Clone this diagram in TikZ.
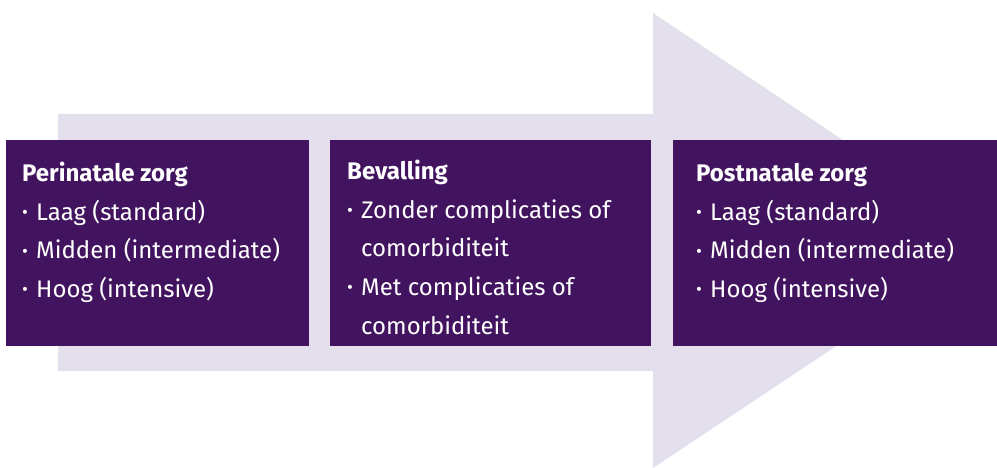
\documentclass[tikz,border=0pt]{standalone}
\usepackage{fontspec}
\setmainfont{Fira Sans}
\usepackage{tikz}
\definecolor{rovviolet}{HTML}{42145F}
\definecolor{rovlila}{HTML}{E4DFEC}
\newcommand{\bul}{\makebox[14pt][l]{\raisebox{1.5pt}{\fontsize{18}{18}\selectfont\textbullet}}}
\newcommand{\ind}{\hspace*{14pt}}

\begin{document}
\begin{tikzpicture}[x=1pt,y=-1pt,
                phase/.style={fill=rovviolet,anchor=north west,inner sep=0pt,minimum height=206pt},
                phasetext/.style={anchor=north west,inner sep=0pt,text=white,align=left,
                    font=\fontsize{24}{38.6}\selectfont}
            ]
                \useasboundingbox (0,0) rectangle (997,468);
                \fill[rovlila] (58,114) -- (653,114) -- (653,13) -- (994,241)
                    -- (653,468) -- (653,371) -- (58,371) -- cycle;
                \node[phase,minimum width=303pt] (peri) at (6,140) { };
                \node[phase,minimum width=321pt] (bev) at (330,140) { };
                \node[phase,minimum width=324pt] (post) at (673,140) { };
                \node[phasetext] (peritxt) at ([shift={(16,22)}]peri.north west)
                    {\textbf{Perinatale zorg}\\ \bul Laag (standard)\\ \bul Midden (intermediate)\\ \bul Hoog (intensive)};
                \node[phasetext] (bevtxt) at ([shift={(17,20)}]bev.north west)
                    {\textbf{Bevalling}\\ \bul Zonder complicaties of\\ \ind comorbiditeit\\ \bul Met complicaties of\\ \ind comorbiditeit};
                \node[phasetext] (posttxt) at ([shift={(23,23)}]post.north west)
                    {\textbf{Postnatale zorg}\\ \bul Laag (standard)\\ \bul Midden (intermediate)\\ \bul Hoog (intensive)};
            \end{tikzpicture}
\end{document}
